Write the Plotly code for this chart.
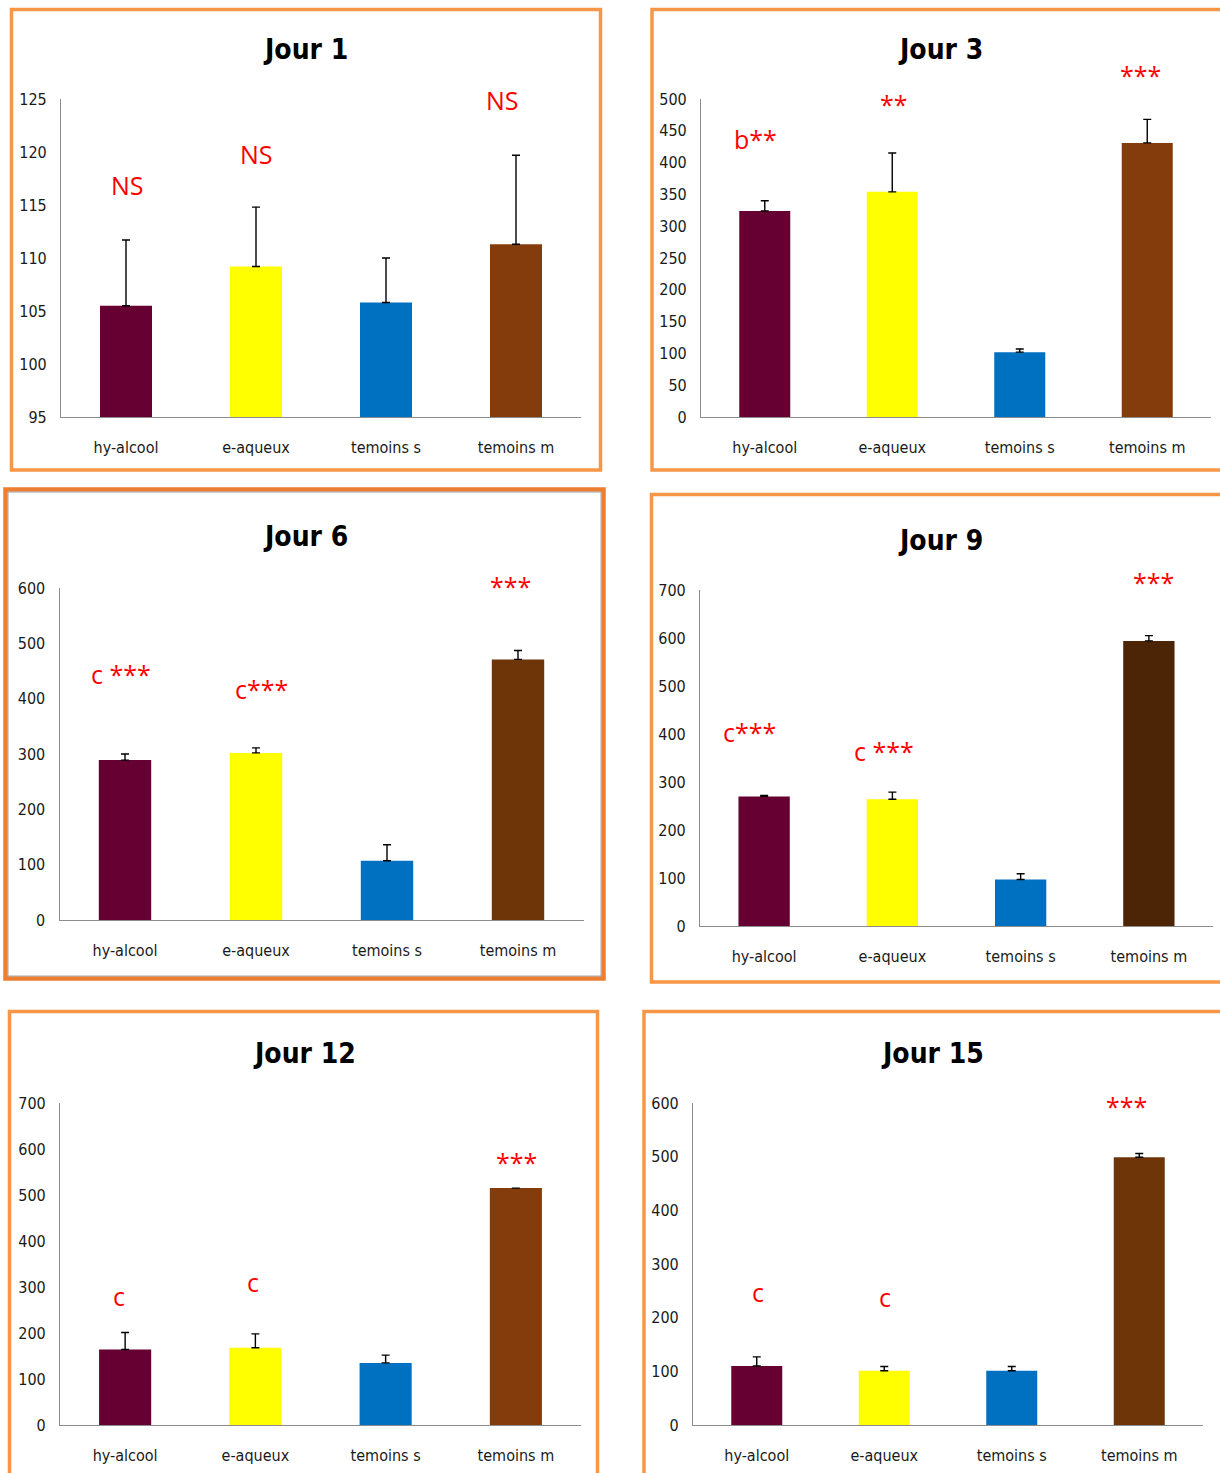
import plotly.graph_objects as go

# ---- data -----------------------------------------------------------------
categories = ["hy-alcool", "e-aqueux", "temoins s", "temoins m"]

days = ["Jour 1", "Jour 3", "Jour 6", "Jour 9", "Jour 12", "Jour 15"]

mean_j1 = [105.5, 109.2, 105.8, 111.3]
err_j1 = [6.2, 5.6, 4.2, 8.4]

mean_j3 = [324, 354, 102, 431]
err_j3 = [16, 61, 5, 37]

mean_j6 = [289, 302, 107, 471]
err_j6 = [11, 9, 29, 16]

mean_j9 = [270, 264, 97, 594]
err_j9 = [2, 15, 12, 11]

mean_j12 = [164, 168, 135, 515]
err_j12 = [37, 30, 17, 0]

mean_j15 = [110, 101, 101, 499]
err_j15 = [17, 8, 8, 7]

sig_j1 = ["NS", "NS", "", "NS"]
sig_j3 = ["b**", "**", "", "***"]
sig_j6 = ["c ***", "c***", "", "***"]
sig_j9 = ["c***", "c ***", "", "***"]
sig_j12 = ["c", "c", "", "***"]
sig_j15 = ["c", "c", "", "***"]

means = [mean_j1, mean_j3, mean_j6, mean_j9, mean_j12, mean_j15]
errors = [err_j1, err_j3, err_j6, err_j9, err_j12, err_j15]
sigs = [sig_j1, sig_j3, sig_j6, sig_j9, sig_j12, sig_j15]

# ---- styling / layout ----------------------------------------------------
W, H = 1220, 1473


def px(x):
    return x / W


def py(y):
    return 1 - y / H


base_colors = ["#660033", "#FFFF00", "#0070C0"]
brown = ["#843C0C", "#843C0C", "#6D3508", "#4B2506", "#843C0C", "#6D3508"]

# plot areas (left, right, top, bottom) in pixels
areas = [
    (61, 581, 99, 417),
    (701, 1211, 99, 417),
    (59.5, 583.5, 588, 920),
    (700, 1213, 590, 926),
    (60, 581, 1103, 1425),
    (693, 1203, 1103, 1425),
]
yranges = [(95, 125), (0, 500), (0, 600), (0, 700), (0, 700), (0, 600)]
ydticks = [5, 50, 100, 100, 100, 100]

# panel frames (left, top, right, bottom) in pixels
frames = [
    (11.5, 9.5, 600.5, 470),
    (652, 9.5, 1225, 470),
    (5.5, 489.5, 603.5, 978.5),
    (651.5, 494.5, 1225, 982),
    (9.5, 1011.5, 597.5, 1480),
    (644, 1011.5, 1225, 1480),
]
frame_colors = ["#F79646", "#F79646", "#ED7D31", "#F79646", "#F79646", "#F79646"]
frame_widths = [3.5, 3.5, 4.5, 3.5, 3.5, 3.5]

title_pos = [(305, 50), (940, 50), (305, 536), (940, 540), (304, 1053), (932, 1053)]

# significance label placement: (height in axis units, horizontal shift px)
sig_place = [
    [(116.9, 1), (119.8, 0), None, (124.9, -14)],
    [(437, -9), (492, 2), None, (538, -7)],
    [(445, -4), (418, 5), None, (603, -8)],
    [(405, -15), (364, -8), None, (716, 5)],
    [(281, -6), (310, -2), None, (571, 1)],
    [(247, 1), (238, 1), None, (594, -13)],
]

NARROW = "DejaVu Sans Condensed, Liberation Sans Narrow, sans-serif"
LABEL = "Open Sans, Noto Sans, sans-serif"

fig = go.Figure()
annotations = []
shapes = []

for i in range(6):
    n = "" if i == 0 else str(i + 1)
    xa, ya = "x" + n, "y" + n
    colors = base_colors + [brown[i]]
    fig.add_trace(
        go.Bar(
            x=categories,
            y=means[i],
            marker=dict(color=colors, line=dict(width=0)),
            error_y=dict(
                type="data",
                array=errors[i],
                arrayminus=[0] * len(errors[i]),
                symmetric=False,
                color="black",
                thickness=1.4,
                width=4,
            ),
            xaxis=xa,
            yaxis=ya,
            showlegend=False,
            hoverinfo="x+y",
        )
    )
    left, right, top, bottom = areas[i]
    lo, hi = yranges[i]
    fig.update_layout(
        **{
            "xaxis" + n: dict(
                domain=[px(left), px(right)],
                anchor=ya,
                automargin=False,
                showline=True,
                linecolor="#8C8C8C",
                linewidth=1.2,
                ticks="",
                showgrid=False,
                zeroline=False,
                tickfont=dict(family=NARROW, size=16, color="#1A1A1A"),
                ticklabelstandoff=16,
            ),
            "yaxis" + n: dict(
                domain=[py(bottom), py(top)],
                anchor=xa,
                automargin=False,
                range=[lo, hi],
                dtick=ydticks[i],
                tick0=lo,
                showline=True,
                linecolor="#8C8C8C",
                linewidth=1.2,
                ticks="",
                showgrid=False,
                zeroline=False,
                tickfont=dict(family=NARROW, size=16, color="#1A1A1A"),
                ticklabelstandoff=10,
            ),
        }
    )
    # panel title
    tx, ty = title_pos[i]
    annotations.append(
        dict(
            text="<b>" + days[i] + "</b>",
            x=px(tx),
            y=py(ty),
            xref="paper",
            yref="paper",
            xanchor="center",
            yanchor="middle",
            showarrow=False,
            font=dict(family=NARROW, size=28, color="black"),
        )
    )
    # significance marks
    for k, lab in enumerate(sigs[i]):
        if not lab:
            continue
        yv, sh = sig_place[i][k]
        annotations.append(
            dict(
                text=lab,
                x=categories[k],
                y=(yv - lo) / (hi - lo),
                xref=xa,
                yref=ya + " domain",
                xanchor="center",
                yanchor="middle",
                xshift=sh,
                showarrow=False,
                font=dict(family=LABEL, size=25, color="#FF0000"),
            )
        )
    # frame around each panel
    fl, ft, fr, fb = frames[i]
    shapes.append(
        dict(
            type="rect",
            xref="paper",
            yref="paper",
            x0=px(fl),
            x1=px(fr),
            y0=py(fb),
            y1=py(ft),
            line=dict(color=frame_colors[i], width=frame_widths[i]),
            fillcolor="rgba(0,0,0,0)",
            layer="below",
        )
    )

# thin grey inner border of the Jour 6 panel
shapes.append(
    dict(
        type="rect",
        xref="paper",
        yref="paper",
        x0=px(8),
        x1=px(601),
        y0=py(976),
        y1=py(492),
        line=dict(color="#A6A6A6", width=1),
        fillcolor="rgba(0,0,0,0)",
        layer="below",
    )
)

fig.update_layout(
    width=W,
    height=H,
    margin=dict(l=0, r=0, t=0, b=0, autoexpand=False),
    paper_bgcolor="white",
    plot_bgcolor="white",
    bargap=0.6,
    annotations=annotations,
    shapes=shapes,
)

fig.write_html("out.html")
